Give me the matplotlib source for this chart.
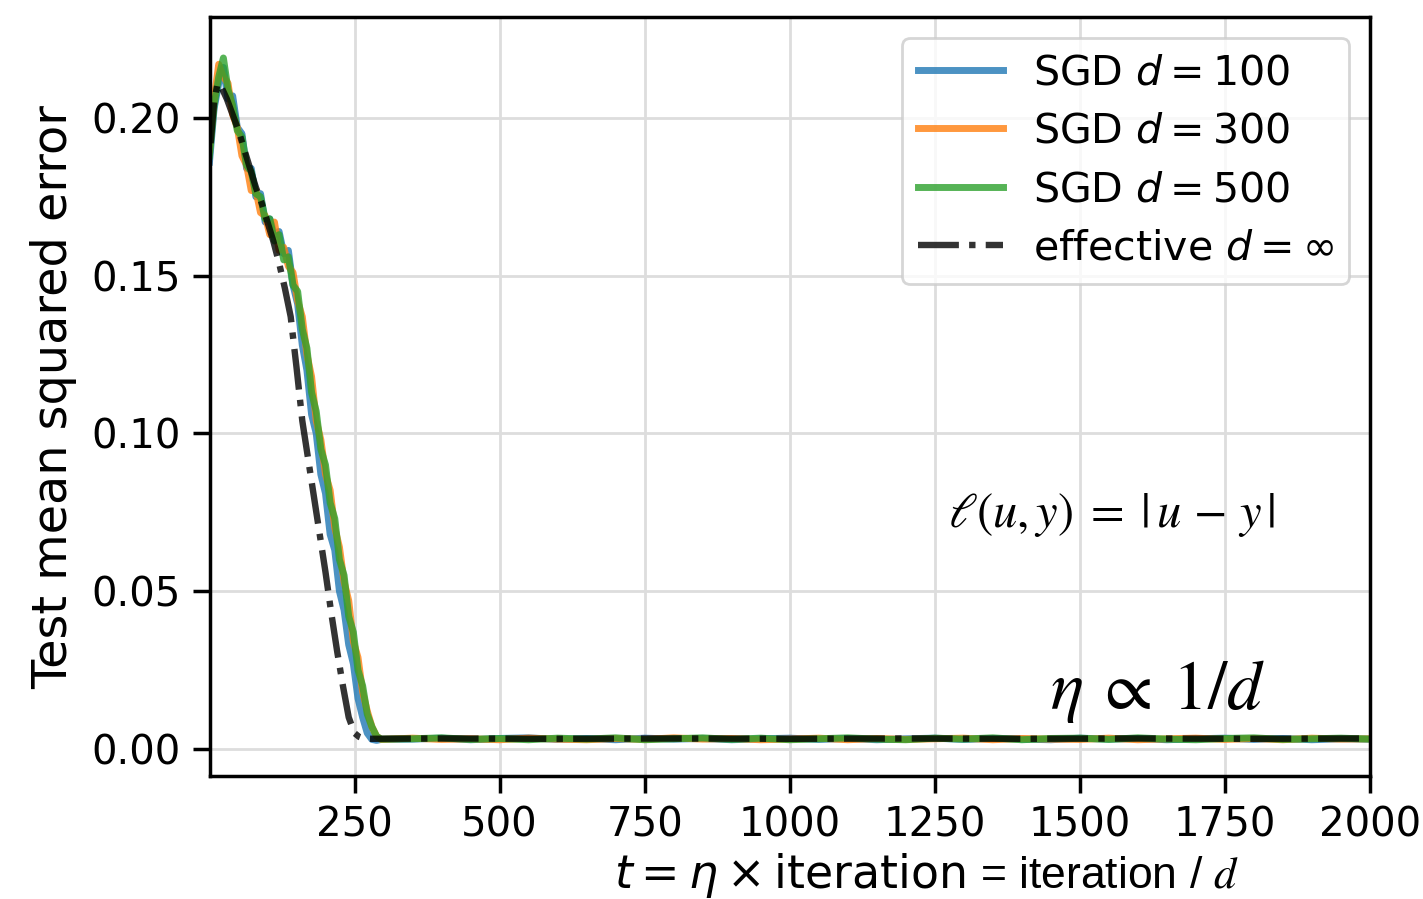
import matplotlib.pyplot as plt

# SGD runs, t = iteration / d
t_sgd = [0, 8, 16, 24, 32, 40, 48, 56, 64, 72, 80, 88, 96, 104, 112, 120, 128, 136, 144,
         152, 160, 168, 176, 184, 192, 200, 208, 216, 224, 232, 240, 248, 256, 264, 272,
         280, 288, 296]
mse_d100 = [0.186, 0.203, 0.211, 0.216, 0.206, 0.207, 0.197, 0.195, 0.184, 0.184, 0.175,
            0.176, 0.167, 0.168, 0.163, 0.164, 0.157, 0.158, 0.147, 0.141, 0.128, 0.120,
            0.106, 0.100, 0.087, 0.081, 0.068, 0.063, 0.050, 0.044, 0.033, 0.027, 0.016,
            0.010, 0.005, 0.003, 0.0027, 0.0030]
mse_d300 = [0.190, 0.206, 0.217, 0.213, 0.211, 0.201, 0.197, 0.188, 0.185, 0.177, 0.177,
            0.170, 0.169, 0.163, 0.167, 0.158, 0.159, 0.153, 0.151, 0.142, 0.137, 0.125,
            0.118, 0.104, 0.098, 0.087, 0.082, 0.070, 0.064, 0.053, 0.047, 0.034, 0.029,
            0.018, 0.012, 0.007, 0.004, 0.0030]
mse_d500 = [0.188, 0.204, 0.213, 0.219, 0.209, 0.204, 0.196, 0.194, 0.185, 0.183, 0.176,
            0.175, 0.168, 0.168, 0.161, 0.163, 0.155, 0.156, 0.147, 0.145, 0.133, 0.127,
            0.113, 0.107, 0.095, 0.090, 0.078, 0.073, 0.060, 0.055, 0.042, 0.037, 0.025,
            0.020, 0.011, 0.007, 0.004, 0.0031]

# flat tail after convergence
t_flat = [350, 400, 450, 500, 550, 600, 650, 700, 750, 800, 850, 900, 950, 1000, 1050,
          1100, 1150, 1200, 1250, 1300, 1350, 1400, 1450, 1500, 1550, 1600, 1650, 1700,
          1750, 1800, 1850, 1900, 1950, 2000]
flat_d100 = [0.0031, 0.0034, 0.0029, 0.0033, 0.0035, 0.0030, 0.0033, 0.0029, 0.0034,
             0.0031, 0.0033, 0.0029, 0.0032, 0.0034, 0.0030, 0.0033, 0.0029, 0.0032,
             0.0034, 0.0030, 0.0033, 0.0031, 0.0029, 0.0034, 0.0031, 0.0033, 0.0029,
             0.0032, 0.0034, 0.0030, 0.0033, 0.0029, 0.0032, 0.0031]
flat_d300 = [0.0034, 0.0030, 0.0032, 0.0029, 0.0034, 0.0031, 0.0029, 0.0033, 0.0030,
             0.0035, 0.0031, 0.0033, 0.0029, 0.0031, 0.0034, 0.0029, 0.0033, 0.0030,
             0.0032, 0.0034, 0.0029, 0.0033, 0.0031, 0.0030, 0.0034, 0.0029, 0.0032,
             0.0034, 0.0030, 0.0033, 0.0029, 0.0034, 0.0031, 0.0032]
flat_d500 = [0.0032, 0.0035, 0.0030, 0.0033, 0.0029, 0.0034, 0.0031, 0.0035, 0.0029,
             0.0032, 0.0035, 0.0030, 0.0034, 0.0029, 0.0032, 0.0035, 0.0031, 0.0029,
             0.0034, 0.0031, 0.0035, 0.0029, 0.0033, 0.0034, 0.0030, 0.0035, 0.0031,
             0.0029, 0.0033, 0.0035, 0.0030, 0.0032, 0.0034, 0.0031]

# effective dynamics (d -> infinity)
t_eff = [2, 8, 14, 20, 30, 40, 50, 60, 70, 80, 90, 100, 110, 120, 130, 140, 150, 160,
         170, 180, 190, 200, 210, 220, 230, 240, 250, 258, 265, 280, 400, 600, 800, 1000,
         1200, 1400, 1600, 1800, 2000]
mse_eff = [0.192, 0.205, 0.211, 0.210, 0.206, 0.201, 0.196, 0.190, 0.184, 0.178, 0.173,
           0.167, 0.161, 0.154, 0.146, 0.137, 0.121, 0.104, 0.092, 0.080, 0.068, 0.056,
           0.043, 0.031, 0.020, 0.010, 0.005, 0.0038, 0.0033, 0.0032, 0.0033, 0.0032,
           0.0033, 0.0032, 0.0033, 0.0032, 0.0033, 0.0032, 0.0033]

fig = plt.figure(figsize=(7.115, 4.495), dpi=200)
ax = fig.add_axes([0.1476, 0.1368, 0.8151, 0.8443])

series = [(mse_d100, flat_d100, 'C0', r'SGD $d = 100$'),
          (mse_d300, flat_d300, 'C1', r'SGD $d = 300$'),
          (mse_d500, flat_d500, 'C2', r'SGD $d = 500$')]
for vals, flat, col, lab in series:
    ax.plot(t_sgd + t_flat, vals + flat, color=col, lw=2.5, alpha=0.8, label=lab)

ax.plot(t_eff, mse_eff, color='k', ls='-.', lw=2.3, alpha=0.8,
        label=r'effective $d = \infty$', zorder=5)

ax.set_xlim(1, 2000)
ax.set_ylim(-0.0086, 0.232)
ax.set_xticks([250, 500, 750, 1000, 1250, 1500, 1750, 2000])
ax.set_yticks([0.0, 0.05, 0.10, 0.15, 0.20])
ax.set_yticklabels(['0.00', '0.05', '0.10', '0.15', '0.20'])
ax.tick_params(labelsize=14.5, length=6, width=1.25, pad=4.5)
for s in ax.spines.values():
    s.set_linewidth(1.25)
ax.grid(True, color='#dddddd', lw=1.0)
ax.set_axisbelow(True)

ax.set_ylabel('Test mean squared error', fontsize=17.2, labelpad=5)
ax.set_xlabel(r'$t = \eta \times \mathrm{iteration}$', fontsize=16.5, labelpad=2)
fig.text(980 / 1423, 1 - 888 / 899, r'= iteration / $d$', fontsize=16,
         family='Liberation Sans', math_fontfamily='stix', ha='left', va='baseline')

ax.text(0.636, 0.344, r'$\ell(u, y) \;=\; |\,u \,-\, y\,|$', transform=ax.transAxes,
        fontsize=17.5, math_fontfamily='stix', va='center')
ax.text(0.724, 0.112, r'$\eta \:\propto\: 1/d$', transform=ax.transAxes, fontsize=25,
        math_fontfamily='stix', va='center')

ax.legend(loc='upper right', fontsize=14.8, handlelength=2.07, handletextpad=0.73,
          borderpad=0.38, labelspacing=0.45)

fig.savefig('out.png', dpi=200)
